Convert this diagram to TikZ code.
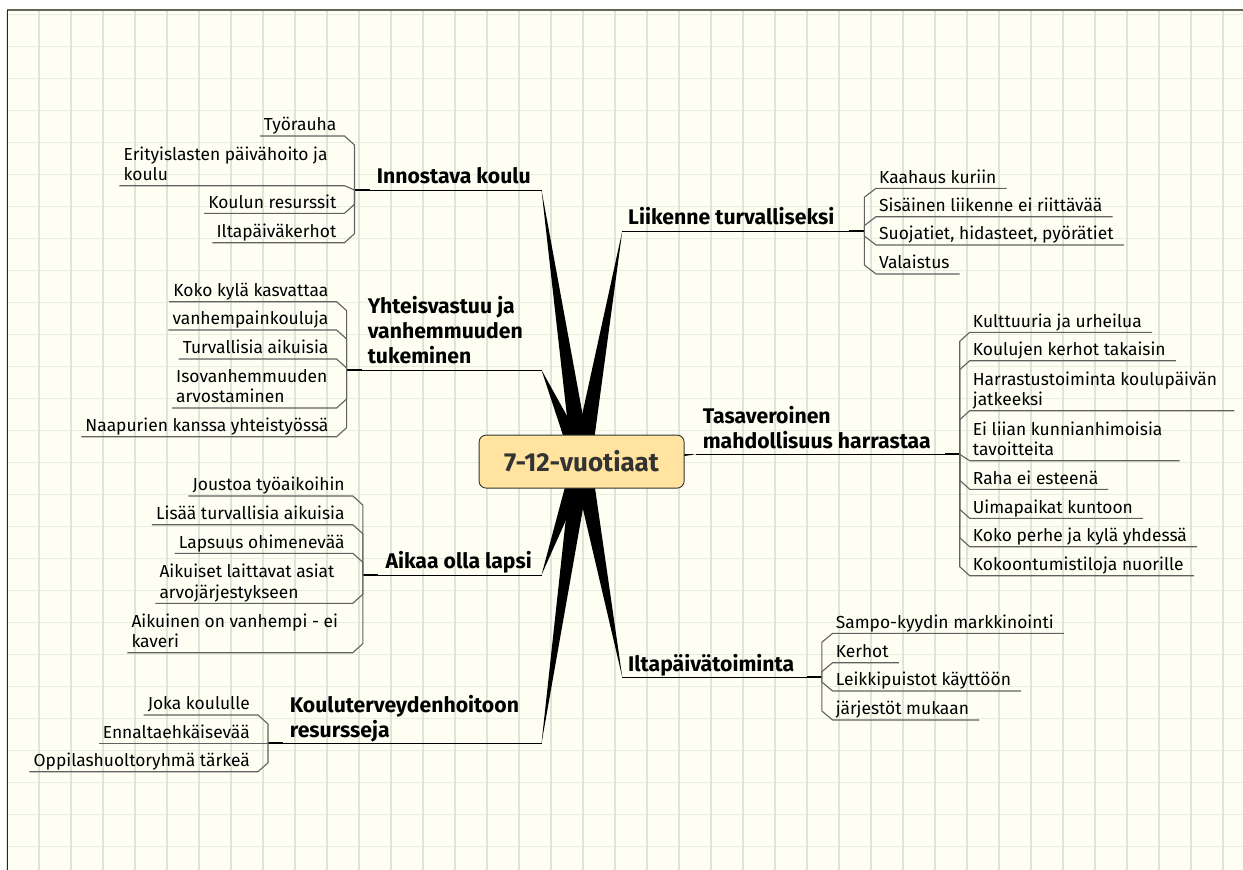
\documentclass[tikz,border=0pt]{standalone}
\usepackage{fontspec}
\setmainfont{Fira Sans}
\usetikzlibrary{calc}
\definecolor{PaperClr}{rgb}{0.996,0.996,0.949}
\definecolor{VGridClr}{rgb}{0.86,0.9,0.85}
\definecolor{HGridClr}{rgb}{0.91,0.93,0.88}
\definecolor{FrameClr}{rgb}{0.4,0.4,0.35}
\definecolor{EdgeClr}{rgb}{0.16,0.16,0.16}
\definecolor{TopicClr}{rgb}{1,0.89,0.62}
\definecolor{InkClr}{rgb}{0.2,0.2,0.2}
\definecolor{TwigClr}{rgb}{0.38,0.38,0.38}

\begin{document}
\begin{tikzpicture}[x=1pt,y=-1pt,
  leaf/.style={font=\fontsize{17.4}{20.5}\selectfont,inner xsep=4pt,inner ysep=0pt,text depth=5pt,align=left},
  leafL/.style={leaf,anchor=south east},
  leafW/.style={leaf,anchor=south west},
  leafR/.style={leaf,inner xsep=3pt,anchor=south west},
  branch/.style={font=\fontsize{21.2}{25}\selectfont\bfseries,inner sep=0pt,text depth=6pt,align=left,anchor=south west},
  centre/.style={draw=InkClr,line width=0.9pt,fill=TopicClr,rounded corners=7pt,minimum width=205pt,minimum height=53pt,inner sep=0pt,font=\fontsize{26}{30}\selectfont\bfseries,text=InkClr},
  limb/.style={line width=1pt,black},
  stub/.style={line width=2.3pt,black},
  twig/.style={line width=1.1pt,TwigClr},
  twigL/.style={to path={-- ($(\tikztostart |- \tikztotarget.south)+(0,#1)$) -- ($(\tikztostart |- \tikztotarget.south)+(-10,0)$) -- (\tikztotarget.south west)}},
  twigR/.style={to path={-- ($(\tikztostart |- \tikztotarget.south)+(0,#1)$) -- (\tikztotarget.south west) -- ($(\tikztotarget.south east)+(7,0)$)}},
  twigRW/.style={to path={-- ($(\tikztostart |- \tikztotarget.south)+(0,#1)$) -- (\tikztotarget.south west) -- ($(\tikztotarget.south east)+(14,0)$)}},
  spoke/.style={to path={($(\tikztostart)!9.5pt!90:(\tikztotarget)$) -- (\tikztotarget) -- ($(\tikztostart)!9.5pt!-90:(\tikztotarget)$) -- cycle}}]

\useasboundingbox (0,0) rectangle (1243,870);
\fill[white] (0,0) rectangle (1243,870);
\fill[PaperClr] (7,10) rectangle (1243,870);
\draw[HGridClr,line width=1pt,xstep=2000pt,ystep=32pt,shift={(7pt,-14pt)}] (1pt,-860pt) grid (1236pt,4pt);
\draw[VGridClr,line width=1.2pt,xstep=32pt,ystep=2000pt,shift={(7pt,-10pt)}] (0pt,-862pt) grid (1236pt,-0.5pt);
\draw[FrameClr,line width=2pt] (7,10) -- (1243,10);
\draw[EdgeClr,line width=1.5pt] (7.5,10) -- (7.5,870);

\coordinate (hub) at (581.6,461.6);
\coordinate (innEnd) at (541.5,190);
\coordinate (innJct) at (354.5,190);
\coordinate (yhtEnd) at (541.5,370);
\coordinate (yhtJct) at (346.6,370);
\coordinate (aikEnd) at (541.5,575);
\coordinate (aikJct) at (362.8,575);
\coordinate (kthEnd) at (541.5,743.3);
\coordinate (kthJct) at (268,743.3);
\coordinate (liiEnd) at (622.3,231);
\coordinate (liiJct) at (864.3,231);
\coordinate (tasEnd) at (696,454.3);
\coordinate (tasJct) at (959.7,454.3);
\coordinate (iltEnd) at (622.3,677.3);
\coordinate (iltJct) at (821.8,677.3);

\fill[black,spoke] (hub) to (innEnd);
\fill[black,spoke] (hub) to (yhtEnd);
\fill[black,spoke] (hub) to (aikEnd);
\fill[black,spoke] (hub) to (kthEnd);
\fill[black,spoke] (hub) to (liiEnd);
\fill[black,spoke] (hub) to (tasEnd);
\fill[black,spoke] (hub) to (iltEnd);

\draw[limb] (innJct) -- (innEnd);
\draw[limb] (yhtJct) -- (yhtEnd);
\draw[limb] (aikJct) -- (aikEnd);
\draw[limb] (kthJct) -- (kthEnd);
\draw[limb] (liiEnd) -- (liiJct);
\draw[limb] (tasEnd) -- (tasJct);
\draw[limb] (iltEnd) -- (iltJct);

\draw[stub] (innJct) -- ($(innJct)!15pt!(innEnd)$);
\draw[stub] (yhtJct) -- ($(yhtJct)!15pt!(yhtEnd)$);
\draw[stub] (aikJct) -- ($(aikJct)!15pt!(aikEnd)$);
\draw[stub] (kthJct) -- ($(kthJct)!15pt!(kthEnd)$);
\draw[stub] (liiJct) -- ($(liiJct)!15pt!(liiEnd)$);
\draw[stub] (tasJct) -- ($(tasJct)!15pt!(tasEnd)$);
\draw[stub] (iltJct) -- ($(iltJct)!15pt!(iltEnd)$);

\node[centre] (kid) at (hub) {7-12-vuotiaat};

\node[branch] (inn) at (376.7,190) {Innostava koulu};
\node[branch] (yht) at (367.6,370) {Yhteisvastuu ja\\vanhemmuuden\\tukeminen};
\node[branch] (aik) at (385.4,575) {Aikaa olla lapsi};
\node[branch] (kth) at (289.7,743.3) {Kouluterveydenhoitoon\\resursseja};
\node[branch] (lii) at (628,231) {Liikenne turvalliseksi};
\node[branch] (tas) at (702.6,454.3) {Tasaveroinen\\mahdollisuus harrastaa};
\node[branch] (ilt) at (628,677.3) {Iltapäivätoiminta};

\node[leafL] (tyo) at (340.5,136) {Työrauha};
\node[leafW] (eri) at (119.4,185.7) {Erityislasten päivähoito ja\\koulu};
\node[leafL] (res) at (340.5,213.3) {Koulun resurssit};
\node[leafL] (ikh) at (340.5,242.7) {Iltapäiväkerhot};
\draw[twig] (innJct) to[twigL=9] (tyo);
\draw[twig] (innJct) to[twigL=4.3] (eri);
\draw[twig] (innJct) to[twigL=-9] (res);
\draw[twig] (innJct) to[twigL=-9] (ikh);

\node[leafL] (kok) at (332.6,301.7) {Koko kylä kasvattaa};
\node[leafL] (vhk) at (332.6,330) {vanhempainkouluja};
\node[leafL] (tur) at (332.6,359) {Turvallisia aikuisia};
\node[leafW] (iso) at (172,408) {Isovanhemmuuden\\arvostaminen};
\node[leafL] (naa) at (332.6,436.7) {Naapurien kanssa yhteistyössä};
\draw[twig] (yhtJct) to[twigL=9] (kok);
\draw[twig] (yhtJct) to[twigL=9] (vhk);
\draw[twig] (yhtJct) to[twigL=9] (tur);
\draw[twig] (yhtJct) to[twigL=-9] (iso);
\draw[twig] (yhtJct) to[twigL=-9] (naa);

\node[leafL] (jou) at (348.8,496) {Joustoa työaikoihin};
\node[leafL] (lis) at (348.8,524.7) {Lisää turvallisia aikuisia};
\node[leafL] (lap) at (348.8,553.3) {Lapsuus ohimenevää};
\node[leafW] (alt) at (155.3,603.3) {Aikuiset laittavat asiat\\arvojärjestykseen};
\node[leafW] (avh) at (127.3,652.7) {Aikuinen on vanhempi - ei\\kaveri};
\draw[twig] (aikJct) to[twigL=9] (jou);
\draw[twig] (aikJct) to[twigL=9] (lis);
\draw[twig] (aikJct) to[twigL=9] (lap);
\draw[twig] (aikJct) to[twigL=-9] (alt);
\draw[twig] (aikJct) to[twigL=-9] (avh);

\node[leafL] (jok) at (254,715) {Joka koululle};
\node[leafL] (enn) at (254,743.3) {Ennaltaehkäisevää};
\node[leafL] (opp) at (254,771.7) {Oppilashuoltoryhmä tärkeä};
\draw[twig] (kthJct) to[twigL=9] (jok);
\draw[twig] (kthJct) to[twigL=0] (enn);
\draw[twig] (kthJct) to[twigL=-9] (opp);

\node[leafR] (kaa) at (876,188.3) {Kaahaus kuriin};
\node[leafR] (sis) at (876,216.7) {Sisäinen liikenne ei riittävää};
\node[leafR] (suo) at (876,245) {Suojatiet, hidasteet, pyörätiet};
\node[leafR] (val) at (876,274) {Valaistus};
\draw[twig] (liiJct) to[twigR=9] (kaa);
\draw[twig] (liiJct) to[twigR=9] (sis);
\draw[twig] (liiJct) to[twigR=-9] (suo);
\draw[twig] (liiJct) to[twigR=-9] (val);

\node[leafR] (kul) at (969.7,332.3) {Kulttuuria ja urheilua};
\node[leafR] (khk) at (969.7,360.7) {Koulujen kerhot takaisin};
\node[leafR] (har) at (969.7,410.7) {Harrastustoiminta koulupäivän\\jatkeeksi};
\node[leafR] (eil) at (969.7,460.7) {Ei liian kunnianhimoisia\\tavoitteita};
\node[leafR] (rah) at (969.7,489.3) {Raha ei esteenä};
\node[leafR] (uim) at (969.7,518.3) {Uimapaikat kuntoon};
\node[leafR] (kpk) at (969.7,546.7) {Koko perhe ja kylä yhdessä};
\node[leafR] (kkt) at (969.7,575.7) {Kokoontumistiloja nuorille};
\draw[twig] (tasJct) to[twigR=9] (kul);
\draw[twig] (tasJct) to[twigR=9] (khk);
\draw[twig] (tasJct) to[twigRW=9] (har);
\draw[twig] (tasJct) to[twigRW=-6.4] (eil);
\draw[twig] (tasJct) to[twigR=-9] (rah);
\draw[twig] (tasJct) to[twigR=-9] (uim);
\draw[twig] (tasJct) to[twigR=-9] (kpk);
\draw[twig] (tasJct) to[twigR=-9] (kkt);

\node[leafR] (sam) at (832.6,633.3) {Sampo-kyydin markkinointi};
\node[leafR] (ker) at (832.6,662.7) {Kerhot};
\node[leafR] (lei) at (832.6,691) {Leikkipuistot käyttöön};
\node[leafR] (jar) at (832.6,720) {järjestöt mukaan};
\draw[twig] (iltJct) to[twigR=9] (sam);
\draw[twig] (iltJct) to[twigR=9] (ker);
\draw[twig] (iltJct) to[twigR=-9] (lei);
\draw[twig] (iltJct) to[twigR=-9] (jar);

\end{tikzpicture}
\end{document}
